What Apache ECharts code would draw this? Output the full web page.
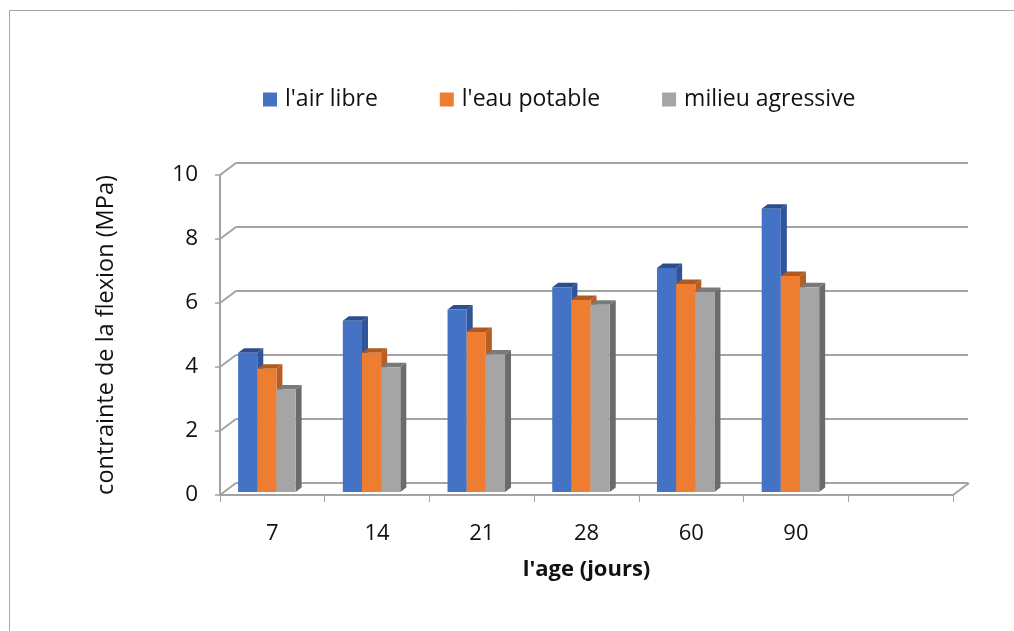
<!DOCTYPE html>
<html>
<head>
<meta charset="utf-8">
<script src="https://cdn.jsdelivr.net/npm/echarts@6/dist/echarts.min.js"></script>
<style>
  html, body { margin: 0; padding: 0; background: #ffffff; }
  #chart { width: 1014px; height: 631px; }
</style>
</head>
<body>
<div id="chart"></div>
<script>
// Flexural stress by curing age and environment
const categories = ['7', '14', '21', '28', '60', '90', ''];
const airLibre = [4.35, 5.35, 5.7, 6.4, 7.0, 8.85];
const eauPotable = [3.85, 4.35, 5.0, 6.0, 6.5, 6.75];
const milieuAgressive = [3.2, 3.9, 4.3, 5.85, 6.25, 6.4];
const yTicks = [0, 2, 4, 6, 8, 10];

const seriesNames = ["l'air libre", "l'eau potable", 'milieu agressive'];
const seriesData = [airLibre, eauPotable, milieuAgressive];
// front, top and side face colours of each column
const faceColors = [
  ['#4472C4', '#2C4E8C', '#30559A'],
  ['#ED7D31', '#AE5A21', '#B85E22'],
  ['#A5A5A5', '#7A7A7A', '#6B6B6B']
];

// depth offset of the back wall and of the column blocks
const WALL_DX = 16, WALL_DY = 12;
const BAR_DX = 6, BAR_DY = 4.5;
const BAR_LIFT = -3;       // columns stand slightly behind the front edge of the floor
const GROUP_SHIFT = -5.5;  // perspective shift of each cluster
const BAR_RATIO = 0.183;   // column width as a share of a category band
const FONT = '"Open Sans", "Noto Sans", sans-serif';
const GRID_COLOR = '#a3a3a3';

function makeBarRenderer(k) {
  const [front, topC, side] = faceColors[k];
  return function (params, api) {
    const i = api.value(0);
    const v = api.value(1);
    const topPt = api.coord([i, v]);
    const basePt = api.coord([i, 0]);
    const w = api.size([1, 0])[0] * BAR_RATIO;
    const x = topPt[0] + GROUP_SHIFT - 1.5 * w + k * w;
    const yTop = topPt[1] + BAR_LIFT;
    const yBot = basePt[1] + BAR_LIFT;
    return {
      type: 'group',
      children: [
        {
          type: 'polygon',
          shape: { points: [[x + w, yTop], [x + w + BAR_DX, yTop - BAR_DY], [x + w + BAR_DX, yBot - BAR_DY], [x + w, yBot]] },
          style: { fill: side }
        },
        {
          type: 'polygon',
          shape: { points: [[x, yTop], [x + w, yTop], [x + w + BAR_DX, yTop - BAR_DY], [x + BAR_DX, yTop - BAR_DY]] },
          style: { fill: topC }
        },
        {
          type: 'rect',
          shape: { x: x, y: yTop, width: w, height: yBot - yTop },
          style: { fill: front }
        }
      ]
    };
  };
}

// slanted edges joining the front axes to the back wall
function renderFrame(params, api) {
  const v = api.value(1);
  const pt = api.coord([0, v]);
  const cs = params.coordSys;
  const children = [{
    type: 'line',
    shape: { x1: cs.x, y1: pt[1], x2: cs.x + WALL_DX, y2: pt[1] - WALL_DY },
    style: { stroke: GRID_COLOR, lineWidth: 2 }
  }];
  if (v === 0) {
    children.push({
      type: 'line',
      shape: { x1: cs.x + cs.width, y1: pt[1], x2: cs.x + cs.width + WALL_DX, y2: pt[1] - WALL_DY },
      style: { stroke: GRID_COLOR, lineWidth: 2 }
    });
  }
  return { type: 'group', children: children };
}

const chart = echarts.init(document.getElementById('chart'), null, { renderer: 'canvas' });

const barSeries = seriesNames.map((name, k) => ({
  name: name,
  type: 'custom',
  xAxisIndex: 0,
  yAxisIndex: 0,
  itemStyle: { color: faceColors[k][0] },
  renderItem: makeBarRenderer(k),
  data: seriesData[k].map((v, i) => [i, v]),
  z: 3 + k
}));

chart.setOption({
  backgroundColor: '#ffffff',
  animation: false,
  textStyle: { fontFamily: FONT },
  graphic: [{
    type: 'rect',
    shape: { x: 9.5, y: 10.5, width: 1200, height: 1000 },
    style: { fill: 'none', stroke: '#a6a6a6', lineWidth: 1 },
    silent: true
  }],
  legend: {
    data: seriesNames,
    icon: 'rect',
    itemWidth: 14,
    itemHeight: 14,
    itemGap: 62,
    left: 258,
    top: 83,
    textStyle: { fontFamily: FONT, fontSize: 23, color: '#111', padding: [0, 0, 0, 3] }
  },
  grid: [
    // front edges: axis lines, ticks and labels
    { left: 220, right: 61, top: 175, bottom: 136 },
    // back wall carrying the gridlines
    { left: 236, right: 46, top: 163, bottom: 148 }
  ],
  xAxis: [
    {
      type: 'category',
      gridIndex: 0,
      data: categories,
      boundaryGap: true,
      axisLine: { show: true, lineStyle: { color: GRID_COLOR, width: 2 } },
      axisTick: { show: true, interval: 0, length: 7, lineStyle: { color: GRID_COLOR, width: 1 } },
      axisLabel: { interval: 0, margin: 28, fontSize: 22, color: '#111', fontFamily: FONT },
      name: "l'age (jours)",
      nameLocation: 'middle',
      nameGap: 64,
      nameTextStyle: { fontSize: 22, fontWeight: 'bold', color: '#111', fontFamily: FONT }
    },
    {
      type: 'category',
      gridIndex: 1,
      data: categories,
      show: false
    }
  ],
  yAxis: [
    {
      type: 'value',
      gridIndex: 0,
      min: 0,
      max: 10,
      interval: 2,
      axisLine: { show: true, lineStyle: { color: GRID_COLOR, width: 2 } },
      axisTick: { show: true, length: 5, lineStyle: { color: GRID_COLOR, width: 1.5 } },
      splitLine: { show: false },
      axisLabel: { margin: 22, fontSize: 22.5, color: '#111', fontFamily: FONT },
      name: 'contrainte de la flexion (MPa)',
      nameLocation: 'middle',
      nameRotate: 90,
      nameGap: 102,
      nameTextStyle: { fontSize: 23.5, color: '#111', fontFamily: FONT }
    },
    {
      type: 'value',
      gridIndex: 1,
      min: 0,
      max: 10,
      interval: 2,
      axisLine: { show: false },
      axisTick: { show: false },
      axisLabel: { show: false },
      splitLine: { show: true, lineStyle: { color: GRID_COLOR, width: 2 } }
    }
  ],
  series: [
    {
      name: 'frame',
      type: 'custom',
      xAxisIndex: 0,
      yAxisIndex: 0,
      silent: true,
      renderItem: renderFrame,
      data: yTicks.map(v => [0, v]),
      z: 1
    }
  ].concat(barSeries)
});
</script>
</body>
</html>
